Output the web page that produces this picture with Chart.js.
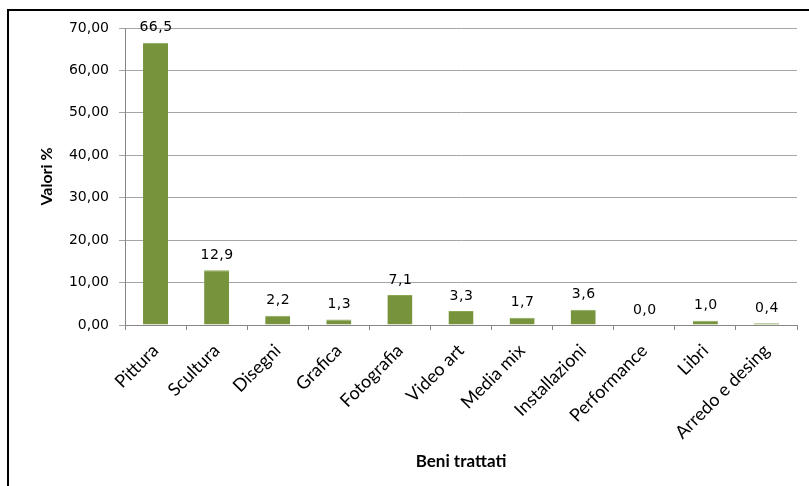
<!DOCTYPE html>
<html>
<head>
<meta charset="utf-8">
<script src="https://cdn.jsdelivr.net/npm/chart.js@4.4.1/dist/chart.umd.min.js"></script>
<style>
  html, body { margin: 0; padding: 0; background: #fff; }
  #wrap { position: relative; width: 809px; height: 486px; overflow: hidden; }
  #frame { position: absolute; left: 7px; top: 9px; width: 900px; height: 600px;
           border-top: 2px solid #000; border-left: 2px solid #000; }
  canvas { position: absolute; left: 0; top: 0; }
</style>
</head>
<body>
<div id="wrap">
  <div id="frame"></div>
  <canvas id="chart" width="809" height="486"></canvas>
</div>
<script>
const categories = ["Pittura", "Scultura", "Disegni", "Grafica", "Fotografia", "Video art",
  "Media mix", "Installazioni", "Performance", "Libri", "Arredo e desing"];
const values = [66.5, 12.9, 2.2, 1.3, 7.1, 3.3, 1.7, 3.6, 0.0, 1.0, 0.4];
const yTicks = [0, 10, 20, 30, 40, 50, 60, 70];

function fmt(v, d) {
  return v.toFixed(d).replace(".", ",");
}

// etichette sopra le barre
const barLabels = {
  id: "barLabels",
  afterDatasetsDraw(chart) {
    const ctx = chart.ctx;
    const meta = chart.getDatasetMeta(0);
    ctx.save();
    ctx.font = "14px 'DejaVu Sans'";
    ctx.fillStyle = "#000";
    ctx.textAlign = "center";
    ctx.textBaseline = "middle";
    ctx.letterSpacing = "0.5px";
    meta.data.forEach((bar, i) => {
      ctx.fillText(fmt(values[i], 1), bar.x + 0.5, bar.y - 15);
    });
    ctx.restore();
  }
};

new Chart(document.getElementById("chart"), {
  type: "bar",
  data: {
    labels: categories,
    datasets: [{
      data: values,
      backgroundColor: "#77933C",
      borderColor: "#8CA856",
      borderWidth: { top: 1, left: 0, right: 0, bottom: 0 },
      categoryPercentage: 1,
      barPercentage: 0.41
    }]
  },
  options: {
    responsive: false,
    animation: false,
    layout: { padding: { left: 37, right: 12, top: 28, bottom: 0 } },
    plugins: {
      legend: { display: false },
      tooltip: { enabled: false }
    },
    scales: {
      x: {
        grid: { display: true, drawOnChartArea: false, offset: true, color: "#868686", tickLength: 5 },
        border: { color: "#868686", width: 1 },
        ticks: {
          color: "#000",
          font: { family: "Lato", size: 18 },
          minRotation: 45, maxRotation: 45,
          padding: 10
        },
        title: {
          display: true, text: "Beni trattati", color: "#000",
          font: { family: "Lato", size: 17, weight: "bold" },
          padding: { top: 0, bottom: 14 }
        },
        afterFit(scale) { scale.height = 161; }
      },
      y: {
        min: 0, max: 70,
        afterBuildTicks(scale) { scale.ticks = yTicks.map(v => ({ value: v })); },
        grid: { color: "#A6A6A6", lineWidth: 1, tickLength: 6 },
        border: { color: "#868686", width: 1 },
        ticks: {
          color: "#000",
          font: { family: "DejaVu Sans", size: 14 },
          padding: 10,
          callback: v => fmt(v, 2)
        },
        title: {
          display: true, text: "Valori %", color: "#000",
          font: { family: "Lato", size: 16, weight: "bold" },
          padding: { top: 0, bottom: 0 }
        },
        afterFit(scale) { scale.width = 88; }
      }
    }
  },
  plugins: [barLabels]
});
</script>
</body>
</html>
